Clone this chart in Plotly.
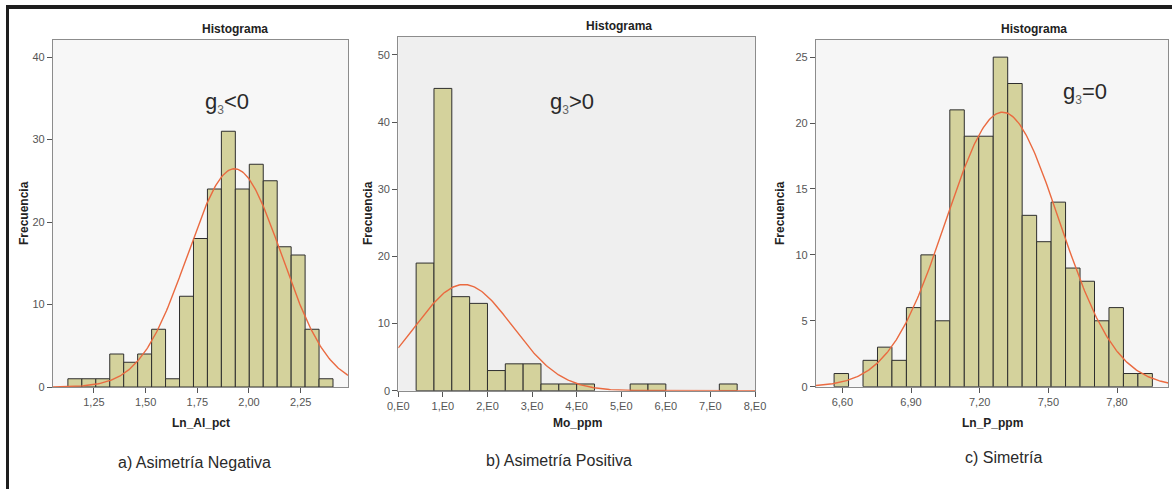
import numpy as np
import plotly.graph_objects as go

W, H = 1172, 489

# ---------------- data ----------------
# Panel a: Ln_Al_pct (negative skew)
a_bin_start = 1.124
a_bin_width = 0.0675
a_counts = [1, 1, 1, 4, 3, 4, 7, 1, 11, 18, 24, 31, 24, 27, 25, 17, 16, 7, 1]
a_curve_mean = 1.930
a_curve_sd = 0.227
a_xticks = [1.25, 1.50, 1.75, 2.00, 2.25]
a_xticktext = ["1,25", "1,50", "1,75", "2,00", "2,25"]
a_yticks = [0, 10, 20, 30, 40]

# Panel b: Mo_ppm (positive skew)
b_bin_start = 0.4
b_bin_width = 0.4
b_counts = [19, 45, 14, 13, 3, 4, 4, 1, 1, 1, 0, 0, 1, 1, 0, 0, 0, 1]
b_curve_mean = 1.47
b_curve_sd = 1.09
b_xticks = [0, 1, 2, 3, 4, 5, 6, 7, 8]
b_xticktext = ["0,E0", "1,E0", "2,E0", "3,E0", "4,E0", "5,E0", "6,E0", "7,E0", "8,E0"]
b_yticks = [0, 10, 20, 30, 40, 50]

# Panel c: Ln_P_ppm (symmetric)
c_bin_start = 6.564
c_bin_width = 0.0632
c_counts = [1, 0, 2, 3, 2, 6, 10, 5, 21, 19, 19, 25, 23, 13, 11, 14, 9, 8, 5, 6, 1, 1]
c_curve_mean = 7.30
c_curve_sd = 0.247
c_xticks = [6.60, 6.90, 7.20, 7.50, 7.80]
c_xticktext = ["6,60", "6,90", "7,20", "7,50", "7,80"]
c_yticks = [0, 5, 10, 15, 20, 25]

titles_x = ["Ln_Al_pct", "Mo_ppm", "Ln_P_ppm"]
skew_labels = ["g<sub><span style='font-size:12px;color:#666'>3</span></sub>&lt;0",
               "g<sub><span style='font-size:12px;color:#666'>3</span></sub>&gt;0",
               "g<sub><span style='font-size:12px;color:#666'>3</span></sub>=0"]
captions = ["a) Asimetría Negativa", "b) Asimetría Positiva", "c) Simetría"]

# ---------------- layout helpers ----------------
def pxx(x):
    return x / W

def pxy(y):
    return 1 - y / H

panels = [
    dict(bin_start=a_bin_start, bw=a_bin_width, counts=a_counts, mu=a_curve_mean, sd=a_curve_sd,
         xt=a_xticks, xtt=a_xticktext, yt=a_yticks, xr=[1.052, 2.479], yr=[0, 42.06],
         box=(53, 40, 348, 387), bg="#f7f7f7",
         title_xy=(235, 29), skew_xy=(227, 103), cap_xy=(194, 462), xt_xy=(201, 423), yt_xy=(24, 213)),
    dict(bin_start=b_bin_start, bw=b_bin_width, counts=b_counts, mu=b_curve_mean, sd=b_curve_sd,
         xt=b_xticks, xtt=b_xticktext, yt=b_yticks, xr=[0, 8], yr=[0, 52.7],
         box=(398.3, 36.7, 755, 390.7), bg="#efefef",
         title_xy=(619, 26), skew_xy=(572, 103), cap_xy=(559, 460), xt_xy=(577, 423), yt_xy=(368, 213)),
    dict(bin_start=c_bin_start, bw=c_bin_width, counts=c_counts, mu=c_curve_mean, sd=c_curve_sd,
         xt=c_xticks, xtt=c_xticktext, yt=c_yticks, xr=[6.485, 8.024], yr=[0, 26.3],
         box=(816, 40, 1168.3, 386.7), bg="#f6f6f6",
         title_xy=(1034, 29), skew_xy=(1085, 93), cap_xy=(1003, 457), xt_xy=(992, 423), yt_xy=(780, 213)),
]

BAR_FILL = "#d4d29c"
BAR_LINE = "#2e2e2e"
CURVE = "#ea6a40"
TICK_FONT = dict(family="Liberation Sans Narrow, Liberation Sans, Arial", size=11, color="#555555")
BOLD = "Liberation Sans, Arial"

fig = go.Figure()
layout = dict(
    width=W, height=H, margin=dict(l=0, r=0, t=0, b=0, pad=0, autoexpand=False),
    paper_bgcolor="white", plot_bgcolor="rgba(0,0,0,0)",
    showlegend=False, shapes=[], annotations=[],
)

def ann(text, x, y, size, family, angle=0, color="#222"):
    return dict(text=text, x=pxx(x), y=pxy(y), xref="paper", yref="paper",
                xanchor="center", yanchor="middle", showarrow=False, textangle=angle,
                font=dict(family=family, size=size, color=color))

for i, p in enumerate(panels, start=1):
    xa = "x" if i == 1 else f"x{i}"
    ya = "y" if i == 1 else f"y{i}"
    counts = p["counts"]
    centers = [p["bin_start"] + (k + 0.5) * p["bw"] for k in range(len(counts))]
    xs = [c for c, n in zip(centers, counts) if n > 0]
    ys = [n for n in counts if n > 0]
    fig.add_trace(go.Bar(
        x=xs, y=ys, width=p["bw"], xaxis=xa, yaxis=ya,
        marker=dict(color=BAR_FILL, line=dict(color=BAR_LINE, width=1)),
        hoverinfo="x+y",
    ))
    n_total = sum(counts)
    cx = np.linspace(p["xr"][0], p["xr"][1], 300)
    cy = n_total * p["bw"] / (p["sd"] * np.sqrt(2 * np.pi)) * np.exp(-0.5 * ((cx - p["mu"]) / p["sd"]) ** 2)
    fig.add_trace(go.Scatter(
        x=cx, y=cy, mode="lines", xaxis=xa, yaxis=ya,
        line=dict(color=CURVE, width=1.4), hoverinfo="skip",
    ))

    x0, y0, x1, y1 = p["box"]
    xkey = "xaxis" if i == 1 else f"xaxis{i}"
    ykey = "yaxis" if i == 1 else f"yaxis{i}"
    layout[xkey] = dict(
        domain=[pxx(x0), pxx(x1)], range=p["xr"], anchor=ya, automargin=False,
        tickvals=p["xt"], ticktext=p["xtt"], ticks="outside", ticklen=5, tickcolor="#555",
        tickfont=TICK_FONT, showgrid=False, zeroline=False,
        showline=True, linecolor="#8c8c8c", linewidth=1.2, mirror=True,
    )
    layout[ykey] = dict(
        domain=[pxy(y1), pxy(y0)], range=p["yr"], anchor=xa, automargin=False,
        tickvals=p["yt"], ticks="outside", ticklen=5, tickcolor="#555",
        tickfont=TICK_FONT, showgrid=False, zeroline=False,
        showline=True, linecolor="#8c8c8c", linewidth=1.2, mirror=True,
    )
    layout["shapes"].append(dict(
        type="rect", xref=f"{xa} domain", yref=f"{ya} domain",
        x0=0, x1=1, y0=0, y1=1, fillcolor=p["bg"], line=dict(width=0), layer="below",
    ))
    anns = layout["annotations"]
    anns.append(ann("<b>Histograma</b>", *p["title_xy"], 12, BOLD))
    anns.append(ann(skew_labels[i - 1], *p["skew_xy"], 22, "Liberation Sans, Arial", color="#2a2a2a"))
    anns.append(ann(captions[i - 1], *p["cap_xy"], 16, "Liberation Sans, Arial", color="#2a2a2a"))
    anns.append(ann(f"<b>{titles_x[i - 1]}</b>", *p["xt_xy"], 12, BOLD))
    anns.append(ann("<b>Frecuencia</b>", *p["yt_xy"], 12, BOLD, angle=-90))

# outer frame (top and left edges)
layout["shapes"].append(dict(type="rect", xref="paper", yref="paper",
                             x0=pxx(6), x1=1, y0=pxy(9), y1=pxy(5), fillcolor="#1e1e1e",
                             line=dict(width=0)))
layout["shapes"].append(dict(type="rect", xref="paper", yref="paper",
                             x0=pxx(6), x1=pxx(9), y0=0, y1=pxy(5), fillcolor="#1e1e1e",
                             line=dict(width=0)))

fig.update_layout(**layout)
fig.write_html("out.html", config={"displayModeBar": False},
               post_script="document.body.style.margin='0';document.body.style.overflow='hidden';")
